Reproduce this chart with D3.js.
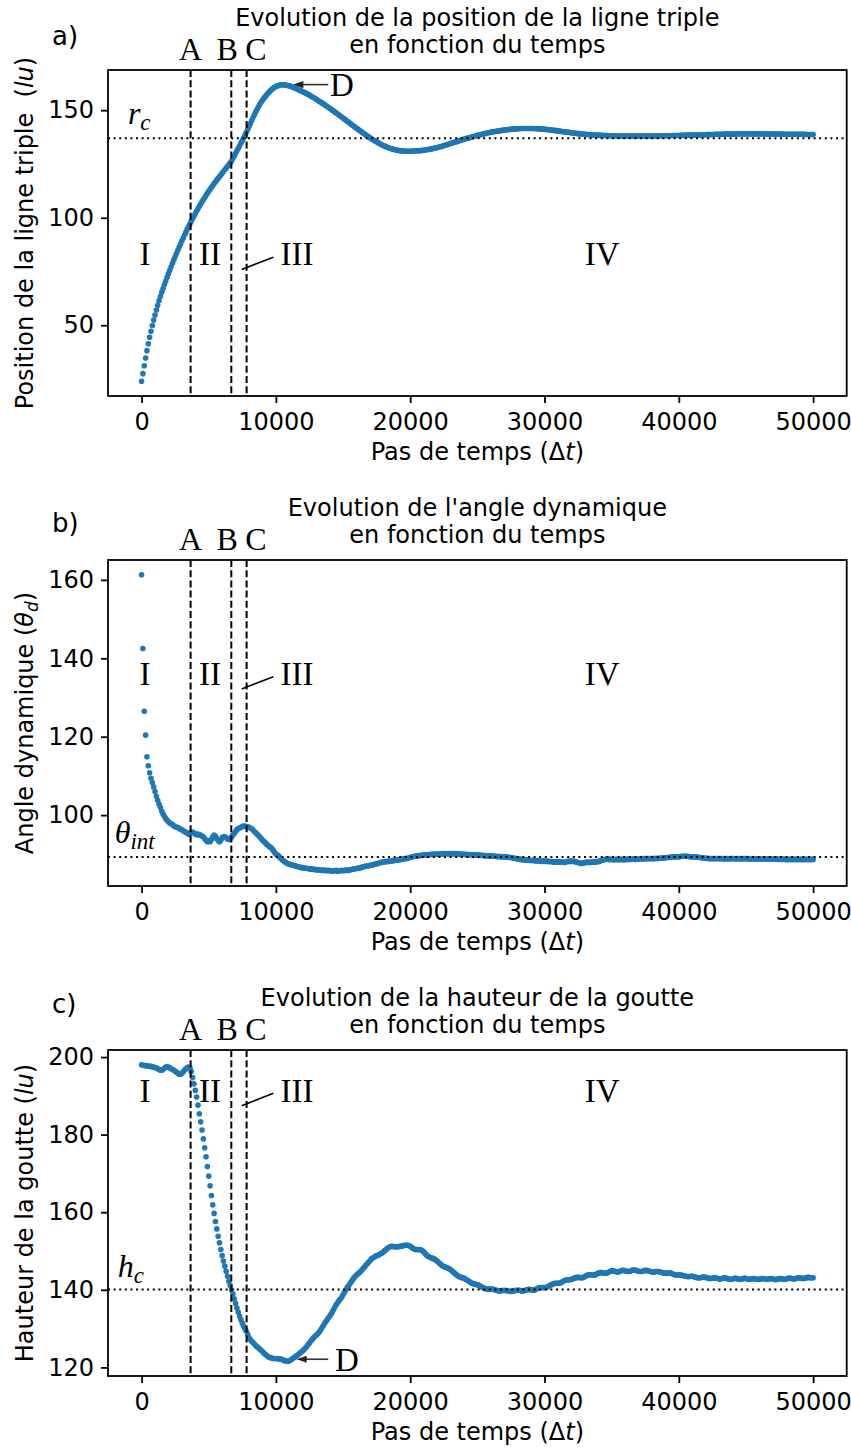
<!DOCTYPE html>
<html><head><meta charset="utf-8">
<script src="https://cdn.jsdelivr.net/npm/d3@7"></script>
<style>body{margin:0;background:#fff}</style>
</head><body>
<svg id="chart" width="851" height="1452"></svg>
<script>
// ---------- DATA (one sample every STEP time steps, from 0 to 50000) ----------
const STEP = 100;
const xTickValues = [0, 10000, 20000, 30000, 40000, 50000];

// a) position of the triple line (lu)
const positionValues = [
 24.0, 27.5, 31.2, 34.8, 38.2, 41.4, 44.4, 47.2, 49.9, 52.4,
 54.8, 57.1, 59.3, 61.4, 63.4, 65.3, 67.1, 68.9, 70.6, 72.3,
 74.0, 75.6, 77.2, 78.8, 80.4, 81.9, 83.4, 84.9, 86.4, 87.8,
 89.2, 90.6, 92.0, 93.3, 94.6, 95.9, 97.2, 98.4, 99.6, 100.8,
 102.0, 103.1, 104.2, 105.3, 106.4, 107.4, 108.4, 109.4, 110.4, 111.4,
 112.3, 113.2, 114.1, 115.0, 115.9, 116.7, 117.5, 118.3, 119.1, 119.9,
 120.7, 121.5, 122.3, 123.1, 123.9, 124.7, 125.5, 126.4, 127.5, 128.7,
 129.9, 131.1, 132.3, 133.5, 134.7, 135.9, 137.1, 138.4, 139.7, 141.0,
 142.4, 143.8, 145.2, 146.6, 147.9, 149.2, 150.4, 151.6, 152.7, 153.7,
 154.6, 155.5, 156.3, 157.1, 157.8, 158.5, 159.1, 159.7, 160.2, 160.6,
 161.0, 161.3, 161.5, 161.7, 161.8, 161.8, 161.8, 161.7, 161.6, 161.5,
 161.3, 161.1, 160.9, 160.6, 160.3, 160.1, 159.8, 159.5, 159.2, 158.9,
 158.6, 158.3, 158.0, 157.7, 157.3, 157.0, 156.6, 156.2, 155.9, 155.5,
 155.1, 154.7, 154.3, 153.9, 153.5, 153.1, 152.7, 152.2, 151.8, 151.4,
 150.9, 150.5, 150.0, 149.6, 149.1, 148.7, 148.2, 147.8, 147.3, 146.8,
 146.4, 145.9, 145.4, 144.9, 144.5, 144.0, 143.5, 143.0, 142.6, 142.1,
 141.6, 141.2, 140.7, 140.3, 139.8, 139.4, 138.9, 138.5, 138.1, 137.6,
 137.2, 136.8, 136.4, 136.0, 135.6, 135.3, 134.9, 134.6, 134.2, 133.9,
 133.6, 133.3, 133.0, 132.8, 132.5, 132.3, 132.1, 131.9, 131.7, 131.6,
 131.4, 131.3, 131.2, 131.1, 131.0, 131.0, 130.9, 130.9, 130.9, 130.9,
 130.9, 130.9, 131.0, 131.0, 131.0, 131.1, 131.1, 131.2, 131.2, 131.3,
 131.4, 131.5, 131.6, 131.7, 131.8, 131.9, 132.0, 132.2, 132.3, 132.5,
 132.6, 132.8, 132.9, 133.1, 133.3, 133.5, 133.7, 133.9, 134.1, 134.3,
 134.5, 134.7, 134.9, 135.1, 135.3, 135.5, 135.7, 135.9, 136.1, 136.3,
 136.5, 136.7, 136.9, 137.0, 137.2, 137.4, 137.6, 137.8, 137.9, 138.1,
 138.3, 138.4, 138.6, 138.7, 138.9, 139.0, 139.2, 139.3, 139.5, 139.6,
 139.7, 139.9, 140.0, 140.1, 140.2, 140.3, 140.4, 140.5, 140.6, 140.7,
 140.8, 140.9, 140.9, 141.0, 141.1, 141.1, 141.2, 141.2, 141.3, 141.3,
 141.4, 141.4, 141.4, 141.5, 141.5, 141.5, 141.5, 141.5, 141.5, 141.5,
 141.5, 141.5, 141.5, 141.4, 141.4, 141.4, 141.3, 141.3, 141.2, 141.2,
 141.1, 141.1, 141.0, 140.9, 140.9, 140.8, 140.7, 140.6, 140.6, 140.5,
 140.4, 140.3, 140.2, 140.1, 140.0, 139.9, 139.8, 139.8, 139.7, 139.6,
 139.5, 139.4, 139.4, 139.3, 139.2, 139.1, 139.1, 139.0, 138.9, 138.9,
 138.8, 138.8, 138.7, 138.7, 138.6, 138.6, 138.5, 138.5, 138.4, 138.4,
 138.4, 138.3, 138.3, 138.3, 138.2, 138.2, 138.2, 138.2, 138.1, 138.1,
 138.1, 138.1, 138.1, 138.0, 138.0, 138.0, 138.0, 138.0, 138.0, 138.0,
 138.0, 138.0, 138.0, 138.0, 138.0, 138.0, 138.0, 138.0, 138.0, 138.0,
 138.0, 138.0, 138.0, 138.0, 138.0, 138.0, 138.0, 138.0, 138.0, 138.0,
 138.0, 138.0, 138.0, 138.0, 138.0, 138.0, 138.1, 138.1, 138.1, 138.1,
 138.1, 138.1, 138.1, 138.1, 138.1, 138.2, 138.2, 138.2, 138.2, 138.2,
 138.2, 138.3, 138.3, 138.3, 138.3, 138.3, 138.4, 138.4, 138.4, 138.4,
 138.4, 138.5, 138.5, 138.5, 138.5, 138.5, 138.6, 138.6, 138.6, 138.6,
 138.6, 138.7, 138.7, 138.7, 138.7, 138.7, 138.7, 138.8, 138.8, 138.8,
 138.8, 138.8, 138.8, 138.8, 138.9, 138.9, 138.9, 138.9, 138.9, 138.9,
 138.9, 138.9, 138.9, 139.0, 139.0, 139.0, 139.0, 139.0, 139.0, 139.0,
 139.0, 139.0, 139.0, 139.0, 139.0, 139.0, 139.0, 139.0, 139.0, 139.0,
 139.0, 139.0, 139.0, 139.0, 139.0, 138.9, 138.9, 138.9, 138.9, 138.9,
 138.9, 138.9, 138.9, 138.9, 138.9, 138.9, 138.9, 138.9, 138.8, 138.8,
 138.8, 138.8, 138.8, 138.8, 138.8, 138.8, 138.8, 138.8, 138.8, 138.8,
 138.8, 138.8, 138.8, 138.8, 138.8, 138.7, 138.7, 138.7, 138.7, 138.7,
 138.7
];

// b) dynamic angle (theta_d)
const angleValues = [
 161.3, 142.5, 126.5, 120.4, 114.9, 112.6, 110.8, 109.4, 108.3, 107.2,
 106.0, 104.8, 103.8, 102.8, 102.0, 101.0, 100.3, 99.7, 99.1, 98.7,
 98.3, 98.0, 97.8, 97.6, 97.3, 97.1, 96.9, 96.8, 96.6, 96.4,
 96.3, 96.0, 95.8, 95.6, 95.4, 95.1, 95.3, 95.6, 95.7, 95.4,
 95.2, 95.0, 95.2, 94.9, 94.9, 94.6, 94.5, 94.0, 93.6, 93.2,
 93.5, 93.2, 93.8, 94.5, 94.9, 94.6, 94.0, 93.5, 93.2, 93.6,
 94.2, 94.5, 94.5, 94.2, 93.9, 93.8, 94.0, 94.4, 94.9, 95.3,
 95.8, 96.3, 96.6, 96.7, 96.9, 97.1, 97.2, 97.2, 97.1, 97.0,
 96.9, 96.7, 96.5, 96.2, 95.8, 95.5, 95.2, 94.8, 94.4, 94.1,
 93.6, 93.3, 93.0, 92.6, 92.3, 92.0, 91.8, 91.5, 91.0, 90.5,
 90.1, 89.8, 89.6, 89.2, 88.8, 88.5, 88.3, 88.0, 87.8, 87.6,
 87.5, 87.4, 87.3, 87.2, 87.1, 87.0, 86.9, 86.8, 86.7, 86.6,
 86.6, 86.5, 86.5, 86.4, 86.4, 86.3, 86.2, 86.3, 86.1, 86.2,
 86.0, 86.1, 86.0, 86.0, 85.9, 86.0, 85.9, 85.9, 85.8, 85.9,
 85.8, 85.8, 85.7, 85.8, 85.8, 85.9, 85.7, 85.8, 85.8, 85.9,
 85.8, 85.9, 85.9, 86.0, 85.9, 86.0, 86.1, 86.2, 86.3, 86.3,
 86.4, 86.5, 86.4, 86.6, 86.7, 86.8, 86.9, 87.0, 87.0, 87.1,
 87.2, 87.2, 87.3, 87.4, 87.5, 87.6, 87.7, 87.8, 87.9, 88.0,
 88.0, 88.1, 88.1, 88.2, 88.2, 88.3, 88.3, 88.4, 88.4, 88.5,
 88.5, 88.6, 88.6, 88.7, 88.8, 88.8, 88.9, 88.9, 89.0, 89.1,
 89.2, 89.3, 89.4, 89.5, 89.5, 89.6, 89.6, 89.7, 89.7, 89.8,
 89.8, 89.8, 89.9, 89.9, 89.9, 90.0, 90.0, 90.0, 90.1, 90.0,
 90.1, 90.1, 90.0, 90.1, 90.2, 90.1, 90.2, 90.2, 90.1, 90.2,
 90.2, 90.1, 90.2, 90.2, 90.1, 90.2, 90.1, 90.1, 90.0, 90.1,
 90.0, 90.0, 89.9, 90.0, 89.9, 89.9, 89.9, 89.8, 89.9, 89.8,
 89.8, 89.8, 89.7, 89.8, 89.7, 89.7, 89.6, 89.7, 89.6, 89.6,
 89.5, 89.6, 89.5, 89.5, 89.5, 89.4, 89.5, 89.4, 89.4, 89.4,
 89.3, 89.4, 89.3, 89.3, 89.2, 89.2, 89.1, 89.0, 89.0, 88.9,
 88.8, 88.8, 88.7, 88.7, 88.6, 88.6, 88.5, 88.6, 88.5, 88.5,
 88.4, 88.5, 88.4, 88.4, 88.3, 88.4, 88.3, 88.3, 88.2, 88.3,
 88.3, 88.2, 88.3, 88.2, 88.1, 88.2, 88.1, 88.0, 88.1, 88.0,
 88.1, 88.0, 88.1, 88.0, 88.0, 87.9, 88.1, 88.2, 88.2, 88.3,
 88.2, 88.3, 88.2, 88.1, 88.0, 87.9, 87.8, 87.7, 87.8, 87.7,
 87.9, 88.0, 87.9, 88.0, 87.9, 88.0, 88.0, 88.1, 88.0, 88.1,
 88.2, 88.2, 88.4, 88.5, 88.6, 88.7, 88.8, 88.8, 88.7, 88.7,
 88.7, 88.7, 88.6, 88.7, 88.7, 88.6, 88.7, 88.7, 88.7, 88.6,
 88.7, 88.7, 88.7, 88.8, 88.7, 88.8, 88.8, 88.8, 88.7, 88.8,
 88.8, 88.8, 88.9, 88.8, 88.9, 88.9, 88.9, 88.9, 88.9, 88.9,
 88.9, 88.9, 88.9, 89.0, 88.9, 89.0, 89.0, 89.0, 89.1, 89.1,
 89.1, 89.2, 89.2, 89.2, 89.3, 89.3, 89.3, 89.4, 89.4, 89.4,
 89.4, 89.4, 89.5, 89.5, 89.5, 89.5, 89.5, 89.5, 89.4, 89.4,
 89.4, 89.4, 89.3, 89.3, 89.3, 89.2, 89.2, 89.1, 89.1, 89.0,
 89.0, 89.0, 88.9, 88.9, 88.9, 88.9, 88.9, 88.9, 88.9, 88.9,
 88.9, 88.9, 88.9, 88.9, 88.8, 88.9, 88.9, 88.8, 88.9, 88.9,
 88.9, 88.9, 88.8, 88.9, 88.9, 88.9, 88.8, 88.9, 88.9, 88.9,
 88.9, 88.9, 88.8, 88.8, 88.8, 88.8, 88.9, 88.8, 88.8, 88.8,
 88.8, 88.8, 88.8, 88.8, 88.8, 88.8, 88.8, 88.8, 88.8, 88.8,
 88.8, 88.8, 88.8, 88.8, 88.7, 88.8, 88.8, 88.7, 88.8, 88.7,
 88.7, 88.7, 88.7, 88.7, 88.7, 88.7, 88.7, 88.7, 88.7, 88.7,
 88.7, 88.7, 88.7, 88.7, 88.7, 88.7, 88.7, 88.7, 88.7, 88.7,
 88.7
];

// c) drop height (lu)
const heightValues = [
 198.0, 197.9, 197.8, 197.8, 197.7, 197.7, 197.6, 197.6, 197.5, 197.4,
 197.3, 197.2, 197.0, 196.8, 196.6, 196.6, 196.8, 197.1, 197.4, 197.5,
 197.4, 197.2, 197.0, 196.8, 196.6, 196.4, 196.1, 195.8, 195.6, 195.6,
 195.8, 196.2, 196.6, 197.0, 197.3, 197.4, 197.2, 196.3, 194.7, 193.1,
 191.4, 189.7, 187.6, 185.4, 183.3, 181.2, 178.9, 176.6, 174.3, 171.8,
 169.3, 166.8, 164.3, 161.9, 159.7, 157.6, 155.7, 153.8, 152.1, 150.4,
 148.8, 147.4, 146.1, 144.8, 143.5, 142.2, 141.1, 140.0, 138.9, 137.7,
 136.5, 135.3, 134.2, 133.2, 132.3, 131.4, 130.6, 129.9, 129.3, 128.5,
 127.7, 127.1, 126.7, 126.4, 126.0, 125.6, 125.3, 125.0, 124.7, 124.4,
 124.1, 123.7, 123.4, 123.1, 122.8, 122.6, 122.5, 122.4, 122.3, 122.3,
 122.3, 122.3, 122.2, 122.2, 122.1, 122.0, 121.8, 121.7, 121.6, 121.6,
 121.7, 121.9, 122.1, 122.4, 122.6, 122.9, 123.1, 123.4, 123.7, 124.0,
 124.3, 124.6, 125.0, 125.4, 125.9, 126.3, 126.8, 127.2, 127.6, 128.0,
 128.3, 128.6, 129.0, 129.5, 130.0, 130.6, 131.2, 131.7, 132.2, 132.7,
 133.2, 133.7, 134.3, 134.9, 135.6, 136.2, 136.7, 137.2, 137.6, 138.1,
 138.7, 139.3, 139.9, 140.5, 141.0, 141.5, 142.0, 142.5, 143.0, 143.4,
 143.8, 144.1, 144.4, 144.7, 145.1, 145.5, 145.9, 146.3, 146.7, 147.1,
 147.5, 147.9, 148.2, 148.4, 148.6, 148.8, 148.9, 149.1, 149.3, 149.5,
 149.8, 150.1, 150.4, 150.7, 150.9, 151.1, 151.2, 151.2, 151.1, 151.1,
 151.1, 151.1, 151.2, 151.2, 151.3, 151.4, 151.5, 151.5, 151.5, 151.4,
 151.2, 151.0, 150.7, 150.5, 150.4, 150.4, 150.4, 150.4, 150.3, 150.1,
 149.8, 149.4, 149.0, 148.7, 148.5, 148.3, 148.2, 148.1, 147.9, 147.7,
 147.4, 147.1, 146.8, 146.5, 146.2, 146.0, 145.9, 145.7, 145.6, 145.4,
 145.2, 144.9, 144.6, 144.3, 144.0, 143.7, 143.5, 143.3, 143.2, 143.1,
 143.0, 142.8, 142.6, 142.4, 142.1, 141.9, 141.7, 141.6, 141.5, 141.4,
 141.3, 141.2, 141.0, 140.8, 140.6, 140.4, 140.3, 140.2, 140.2, 140.2,
 140.2, 140.2, 140.1, 140.0, 139.9, 139.8, 139.7, 139.7, 139.8, 139.8,
 139.9, 139.8, 139.8, 139.7, 139.6, 139.6, 139.6, 139.7, 139.8, 139.9,
 139.9, 139.9, 139.8, 139.7, 139.7, 139.8, 139.9, 140.0, 140.1, 140.1,
 140.0, 139.9, 139.9, 140.0, 140.2, 140.4, 140.5, 140.6, 140.6, 140.6,
 140.6, 140.6, 140.7, 140.9, 141.1, 141.3, 141.5, 141.6, 141.7, 141.7,
 141.7, 141.7, 141.8, 142.0, 142.2, 142.4, 142.5, 142.6, 142.6, 142.6,
 142.7, 142.8, 143.0, 143.1, 143.2, 143.2, 143.2, 143.1, 143.1, 143.2,
 143.4, 143.6, 143.8, 143.9, 143.9, 143.9, 143.8, 143.8, 143.9, 144.1,
 144.3, 144.4, 144.5, 144.4, 144.3, 144.3, 144.3, 144.4, 144.6, 144.8,
 144.9, 144.9, 144.8, 144.7, 144.6, 144.6, 144.7, 144.9, 145.0, 145.0,
 144.9, 144.8, 144.7, 144.7, 144.8, 145.0, 145.1, 145.1, 145.0, 144.9,
 144.8, 144.7, 144.7, 144.8, 144.9, 145.0, 145.0, 144.9, 144.8, 144.7,
 144.6, 144.6, 144.6, 144.7, 144.7, 144.7, 144.6, 144.5, 144.4, 144.3,
 144.3, 144.3, 144.3, 144.4, 144.3, 144.2, 144.0, 143.9, 143.8, 143.8,
 143.8, 143.8, 143.8, 143.7, 143.6, 143.5, 143.4, 143.4, 143.4, 143.5,
 143.5, 143.4, 143.3, 143.2, 143.1, 143.1, 143.1, 143.2, 143.3, 143.3,
 143.2, 143.1, 143.0, 142.9, 142.9, 143.0, 143.1, 143.1, 143.0, 142.9,
 142.8, 142.8, 142.9, 143.0, 143.1, 143.0, 142.9, 142.8, 142.7, 142.7,
 142.8, 142.9, 143.0, 142.9, 142.8, 142.7, 142.7, 142.8, 142.9, 143.0,
 142.9, 142.8, 142.7, 142.7, 142.8, 142.9, 142.9, 142.8, 142.7, 142.7,
 142.7, 142.8, 142.9, 142.9, 142.8, 142.7, 142.7, 142.8, 142.9, 142.9,
 142.8, 142.7, 142.6, 142.7, 142.8, 142.9, 142.9, 142.8, 142.7, 142.7,
 142.8, 142.9, 143.0, 143.0, 142.9, 142.8, 142.8, 142.9, 143.0, 143.1,
 143.1, 143.0, 142.9, 142.9, 143.0, 143.1, 143.2, 143.2, 143.1, 143.1,
 143.1
];

// phase boundaries (time steps) and their labels
const boundaryNames = ["A", "B", "C"];
const boundaryTimes = [3650, 6680, 7820];
const boundaryLabelTimes = [3650, 6380, 8520];
// phase names and their label positions (time steps)
const phaseNames = ["I", "II", "III", "IV"];
const phaseLabelTimes = [250, 5100, 11570, 34300];
// reference values (dotted lines)
const refValues = [137.0, 89.3, 140.1];

// ---------- LAYOUT ----------
const svg = d3.select("#chart");
svg.append("rect").attr("width", 851).attr("height", 1452).attr("fill", "#fff");
const LEFT = 108, RIGHT = 846.7, PH = 326;
const tops = [70, 560, 1050];
const BLUE = "#1f77b4";
const SANS = "DejaVu Sans", SERIF = "Liberation Serif";

const xPad = 0.05 * 50000;
const x = d3.scaleLinear().domain([0 - xPad, 50000 + xPad]).range([LEFT, RIGHT]);

const panels = [
  { letter: "a)", letterDy: -25, values: positionValues, yTicks: [50, 100, 150],
    title: ["Evolution de la position de la ligne triple", "en fonction du temps"],
    ylabel: [["Position de la ligne triple  (", false], ["lu", true], [")", false]],
    ref: refValues[0], refMain: "r", refSub: "c", refAt: [-1020, 143.5],
    romanY: 77.8, arrow: { tip: [11300, 161.9], tail: 13900, text: [14030, 156.5] } },
  { letter: "b)", letterDy: -28.3, values: angleValues, yTicks: [100, 120, 140, 160],
    title: ["Evolution de l'angle dynamique", "en fonction du temps"],
    ylabel: [["Angle dynamique (", false], ["θ", true], ["d", true, true], [")", false]],
    ref: refValues[1], refMain: "θ", refSub: "int", refAt: [-2000, 92.9],
    romanY: 133.2, arrow: null },
  { letter: "c)", letterDy: -36.7, values: heightValues, yTicks: [120, 140, 160, 180, 200],
    title: ["Evolution de la hauteur de la goutte", "en fonction du temps"],
    ylabel: [["Hauteur de la goutte (", false], ["lu", true], [")", false]],
    ref: refValues[2], refMain: "h", refSub: "c", refAt: [-1770, 143.4],
    romanY: 188.5, arrow: { tip: [11550, 122.1], tail: 13900, text: [14400, 119.1] } }
];

panels.forEach((p, k) => {
  const top = tops[k], bottom = top + PH;
  const g = svg.append("g");
  const ext = d3.extent(p.values);
  const pad = 0.05 * (ext[1] - ext[0]);
  const y = d3.scaleLinear().domain([ext[0] - pad, ext[1] + pad]).range([bottom, top]);

  // data points
  g.append("g").selectAll("circle").data(p.values).join("circle")
    .attr("cx", (d, i) => x(i * STEP)).attr("cy", d => y(d))
    .attr("r", 2.8).attr("fill", BLUE);

  // vertical dashed phase boundaries
  g.append("g").selectAll("line").data(boundaryTimes).join("line")
    .attr("x1", d => x(d)).attr("x2", d => x(d)).attr("y1", top).attr("y2", bottom)
    .attr("stroke", "#000").attr("stroke-width", 2).attr("stroke-dasharray", "7,3.2");

  // dotted reference line
  g.append("line").attr("x1", LEFT).attr("x2", RIGHT)
    .attr("y1", y(p.ref)).attr("y2", y(p.ref))
    .attr("stroke", "#000").attr("stroke-width", 2).attr("stroke-dasharray", "2,3.6");

  // reference label
  const rl = g.append("text").attr("x", x(p.refAt[0])).attr("y", y(p.refAt[1]))
    .attr("font-family", SERIF).attr("font-style", "italic").attr("font-size", 32);
  rl.append("tspan").text(p.refMain);
  rl.append("tspan").attr("font-size", 23).attr("dy", 6).text(p.refSub);

  // boundary labels A B C
  g.append("g").selectAll("text").data(boundaryNames).join("text")
    .attr("x", (d, i) => x(boundaryLabelTimes[i])).attr("y", top - 10)
    .attr("text-anchor", "middle").attr("font-family", SERIF).attr("font-size", 32)
    .text(d => d);

  // phase labels
  g.append("g").selectAll("text").data(phaseNames).join("text")
    .attr("x", (d, i) => x(phaseLabelTimes[i])).attr("y", y(p.romanY))
    .attr("text-anchor", "middle").attr("font-family", SERIF).attr("font-size", 33)
    .text(d => d);
  // small leader line to phase III
  const yb = y(p.romanY);
  g.append("line").attr("x1", x(7450)).attr("y1", yb + 4).attr("x2", x(9810)).attr("y2", yb - 8.3)
    .attr("stroke", "#000").attr("stroke-width", 1.6);

  // D arrow
  if (p.arrow) {
    const tx = x(p.arrow.tip[0]), ty = y(p.arrow.tip[1]);
    g.append("line").attr("x1", x(p.arrow.tail)).attr("y1", ty).attr("x2", tx + 8).attr("y2", ty)
      .attr("stroke", "#333").attr("stroke-width", 1.6);
    g.append("path").attr("d", `M${tx},${ty} L${tx + 10},${ty - 3.6} L${tx + 10},${ty + 3.6} Z`)
      .attr("fill", "#222");
    g.append("text").attr("x", x(p.arrow.text[0])).attr("y", y(p.arrow.text[1]))
      .attr("font-family", SERIF).attr("font-size", 33).text("D");
  }

  // axes
  const xa = g.append("g").attr("transform", `translate(0,${bottom})`)
    .call(d3.axisBottom(x).tickValues(xTickValues).tickFormat(d3.format("d"))
      .tickSize(7).tickPadding(10).tickSizeOuter(0));
  const ya = g.append("g").attr("transform", `translate(${LEFT},0)`)
    .call(d3.axisLeft(y).tickValues(p.yTicks).tickFormat(d3.format("d"))
      .tickSize(7).tickPadding(7).tickSizeOuter(0));
  [xa, ya].forEach(a => {
    a.select(".domain").remove();
    a.attr("font-family", SANS).attr("font-size", 24);
    a.selectAll("line").attr("stroke", "#000").attr("stroke-width", 1.8);
    a.selectAll("text").attr("fill", "#000");
  });

  // frame
  g.append("rect").attr("x", LEFT).attr("y", top).attr("width", RIGHT - LEFT).attr("height", PH)
    .attr("fill", "none").attr("stroke", "#000").attr("stroke-width", 1.8);

  // x label
  const xl = g.append("text").attr("x", (LEFT + RIGHT) / 2).attr("y", bottom + 64)
    .attr("text-anchor", "middle").attr("font-family", SANS).attr("font-size", 24);
  xl.append("tspan").text("Pas de temps (Δ");
  xl.append("tspan").attr("font-style", "italic").text("t");
  xl.append("tspan").text(")");

  // y label
  const yl = g.append("text").attr("transform", `translate(33,${(top + bottom) / 2}) rotate(-90)`)
    .attr("text-anchor", "middle").attr("font-family", SANS).attr("font-size", 24)
    .style("white-space", "pre");
  p.ylabel.forEach(([t, it, sub]) => {
    const ts = yl.append("tspan").text(t);
    if (it) ts.attr("font-style", "italic");
    if (sub) ts.attr("font-size", 17).attr("dy", 5);
  });
  if (p.ylabel.length > 3) yl.select("tspan:last-child").attr("dy", -5);

  // title
  g.append("g").selectAll("text").data(p.title).join("text")
    .attr("x", (LEFT + RIGHT) / 2).attr("y", (d, i) => top - 44 + i * 27)
    .attr("text-anchor", "middle").attr("font-family", SANS).attr("font-size", 24)
    .text(d => d);

  // panel letter
  g.append("text").attr("x", 52).attr("y", top + p.letterDy)
    .attr("font-family", SANS).attr("font-size", 26).text(p.letter);
});
</script>
</body></html>
